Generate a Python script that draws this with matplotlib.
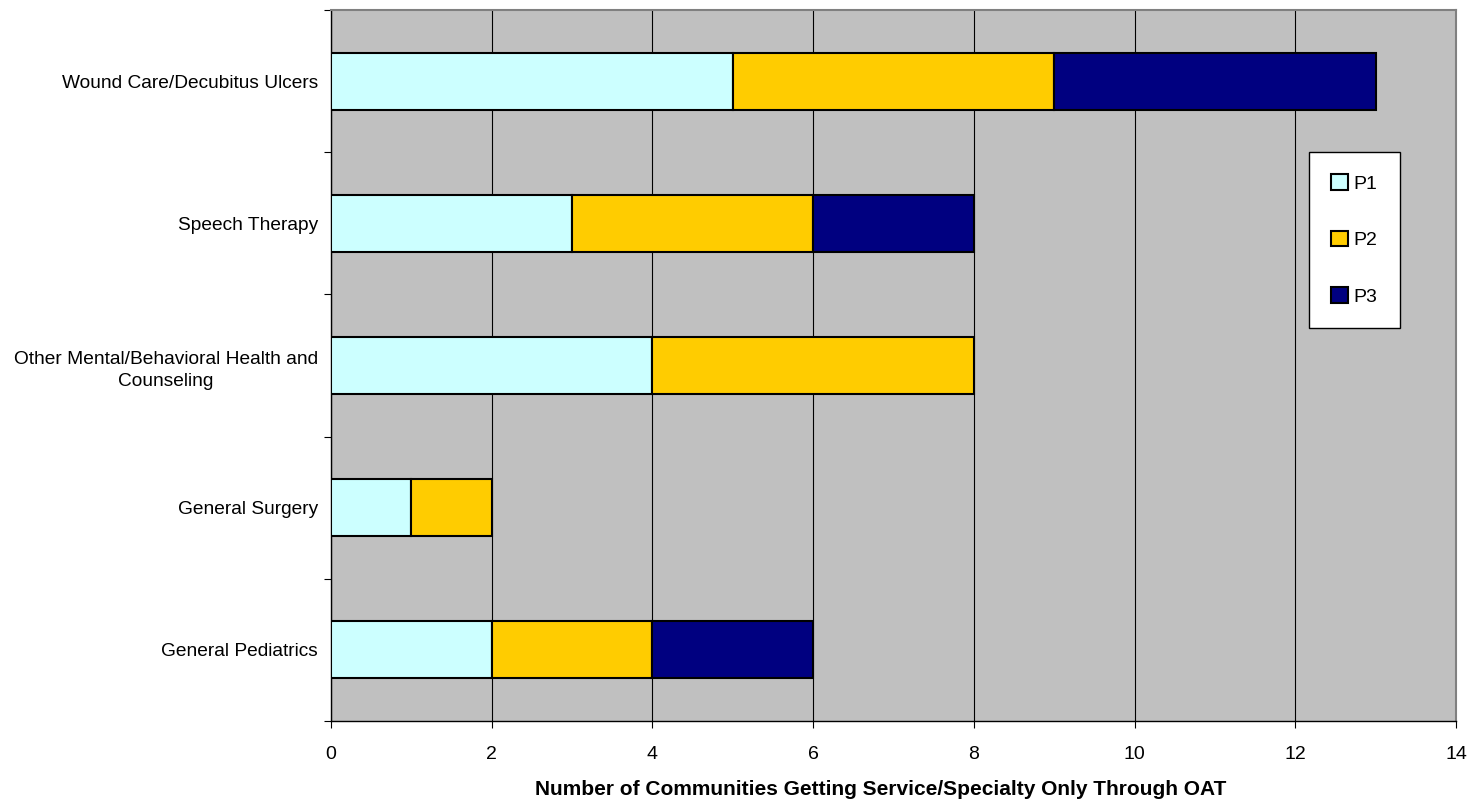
import matplotlib
matplotlib.use("Agg")
import matplotlib.pyplot as plt
import numpy as np

plt.rcParams['font.family'] = ['Liberation Sans', 'DejaVu Sans']

categories = [
    "General Pediatrics",
    "General Surgery",
    "Other Mental/Behavioral Health and\nCounseling",
    "Speech Therapy",
    "Wound Care/Decubitus Ulcers",
]
p1 = [2, 1, 4, 3, 5]
p2 = [2, 1, 4, 3, 4]
p3 = [2, 0, 0, 2, 4]
series_names = ["P1", "P2", "P3"]
series_colors = ["#CCFFFF", "#FFCC00", "#000080"]
x_ticks = [0, 2, 4, 6, 8, 10, 12, 14]
x_label = "Number of Communities Getting Service/Specialty Only Through OAT"

fig = plt.figure(figsize=(14.73, 8.05), dpi=100)
ax = fig.add_axes([331 / 1473, 1 - 721 / 805, 1125 / 1473, 711 / 805])
ax.set_facecolor("#C0C0C0")

y = np.arange(len(categories))
left = np.zeros(len(categories))
handles = []
for vals, name, col in zip([p1, p2, p3], series_names, series_colors):
    vals = np.array(vals, dtype=float)
    mask = vals > 0
    h = ax.barh(y[mask], vals[mask], left=left[mask], height=0.4,
                color=col, edgecolor="black", linewidth=1.5, label=name, zorder=3)
    handles.append(h)
    left += vals

ax.set_xlim(0, 14)
ax.set_ylim(-0.5, len(categories) - 0.5)
ax.set_xticks(x_ticks)
ax.set_xticklabels([str(t) for t in x_ticks], fontsize=14)
ax.xaxis.grid(True, color="black", linewidth=0.8, zorder=1)
ax.set_axisbelow(True)

ax.set_yticks(y)
ax.set_yticklabels(categories, fontsize=13.8, multialignment="center",
                   linespacing=1.45)
ax.tick_params(axis="y", which="major", length=0, pad=9.5)
ax.set_yticks(np.arange(-0.5, len(categories), 1.0), minor=True)
ax.tick_params(axis="y", which="minor", length=5, direction="out", width=0.8)
ax.tick_params(axis="x", length=5, direction="out", width=0.8, pad=13)

for s in ["top", "right"]:
    ax.spines[s].set_color("#808080")
    ax.spines[s].set_linewidth(1.5)
for s in ["left", "bottom"]:
    ax.spines[s].set_color("black")
    ax.spines[s].set_linewidth(1.0)

ax.set_xlabel(x_label, fontsize=15, fontweight="bold", labelpad=12)
ax.xaxis.label.set_x((881 - 331) / 1125)

leg = ax.legend(handles=handles, labels=series_names, loc="upper left",
                bbox_to_anchor=((1309 - 331) / 1125, (721 - 152) / 711),
                fontsize=14, frameon=True, fancybox=False, edgecolor="black",
                facecolor="white", framealpha=1.0,
                handlelength=0.85, handleheight=0.85, handletextpad=0.3,
                labelspacing=1.95, borderpad=1.15, borderaxespad=0)
leg.get_frame().set_linewidth(1.0)

fig.savefig("out.png", dpi=100, facecolor="white")
